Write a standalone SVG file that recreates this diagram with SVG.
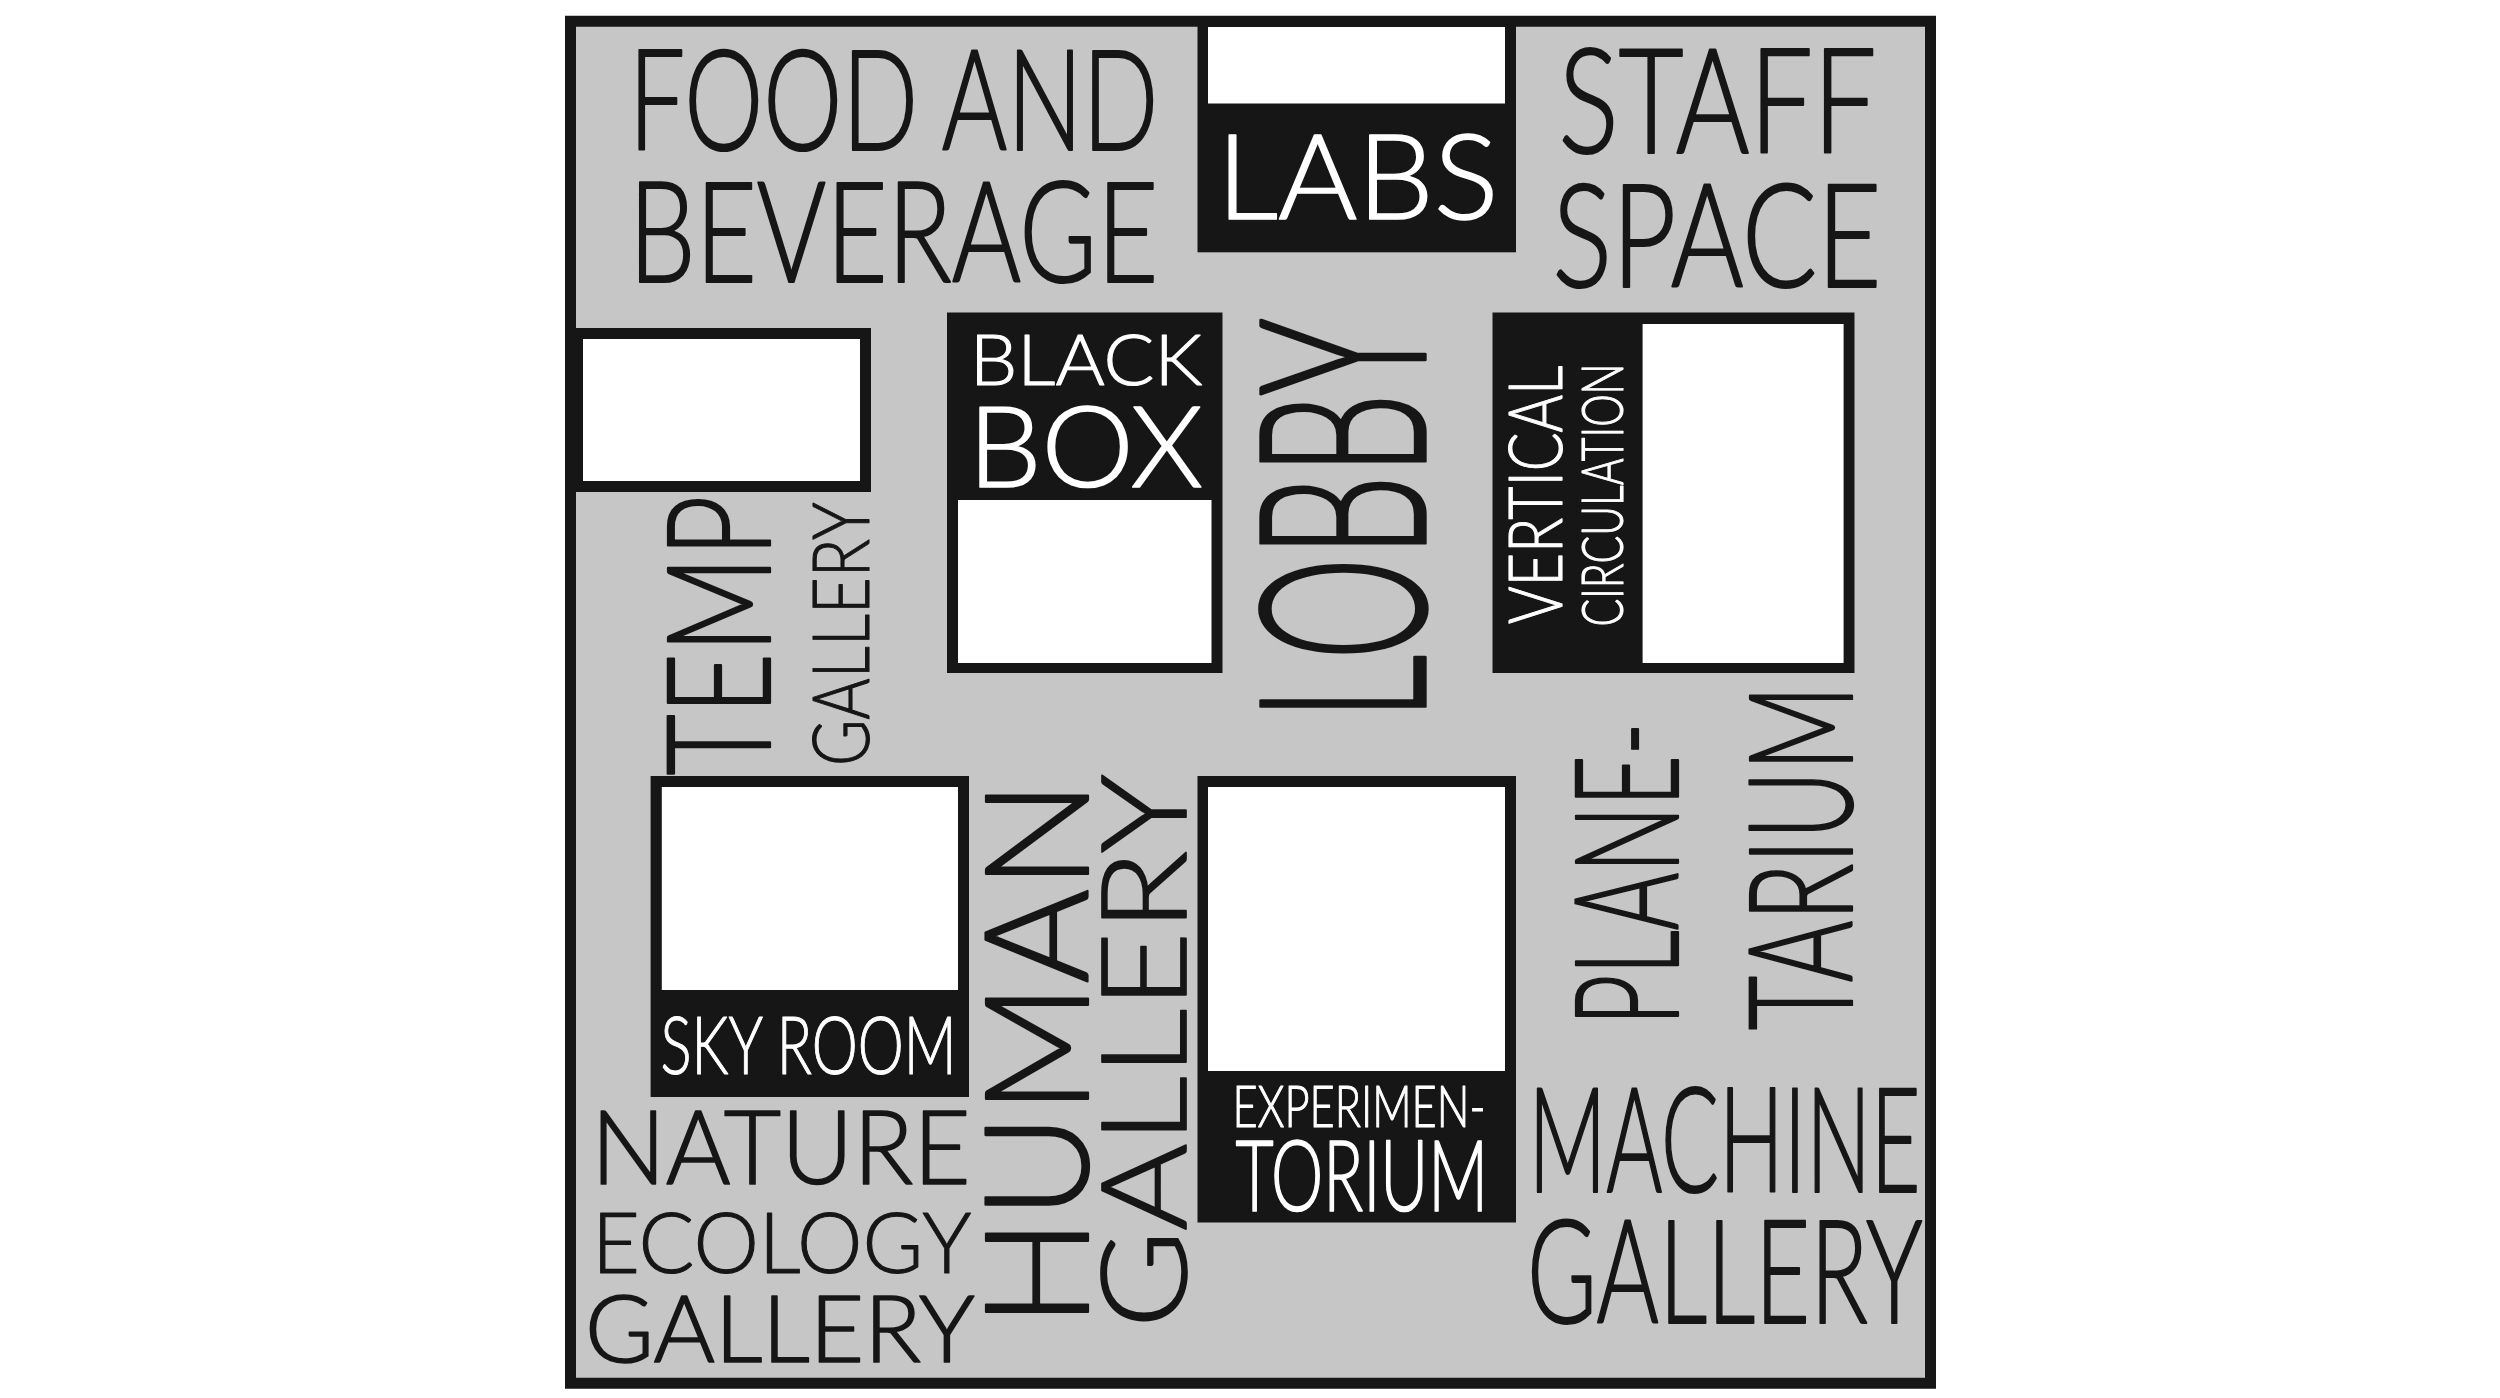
<svg xmlns="http://www.w3.org/2000/svg" width="2500" height="1398" viewBox="0 0 2500 1398">
<style>
.t{font-family:Lato,"Open Sans","Liberation Sans",sans-serif;font-weight:300;fill:#161616;stroke:#161616;stroke-width:2.2;stroke-linejoin:round}
.w{fill:#ffffff;stroke:#ffffff}
.m{stroke-width:1.7}
.s{stroke-width:1.1}
.xl{stroke-width:3.4}
.blk{fill:#161616}
.wht{fill:#ffffff}
</style>
<rect width="2500" height="1398" fill="#ffffff"/>
<g id="frame">
<rect x="570.5" y="21.25" width="1360" height="1362" fill="#c6c6c6" stroke="#161616" stroke-width="11"/>
</g>
<g id="connectors"/>
<g id="food-and-beverage">
<text class="t" x="628.7" y="149.6" font-size="141" textLength="529.7" lengthAdjust="spacingAndGlyphs">FOOD AND</text>
<text class="t" x="628.7" y="282" font-size="141" textLength="529.7" lengthAdjust="spacingAndGlyphs">BEVERAGE</text>
</g>
<g id="labs">
<rect class="blk" x="1197.5" y="16" width="318.5" height="236.3"/>
<rect class="wht" x="1208" y="27" width="297" height="76.5"/>
<text class="t w m" x="1216.7" y="218.75" font-size="118.6" textLength="281.7" lengthAdjust="spacingAndGlyphs">LABS</text>
</g>
<g id="staff-space">
<text class="t" x="1558.4" y="153.3" font-size="146.5" textLength="318.2" lengthAdjust="spacingAndGlyphs">STAFF</text>
<text class="t" x="1552.5" y="287.3" font-size="145" textLength="329" lengthAdjust="spacingAndGlyphs">SPACE</text>
</g>
<g id="temp-gallery">
<rect class="blk" x="565" y="328" width="306" height="164"/>
<rect class="wht" x="583" y="339" width="277" height="142"/>
<text class="t" transform="translate(770,769) rotate(-90)" x="-6.5" y="0" font-size="143.8" textLength="279.9" lengthAdjust="spacingAndGlyphs">TEMP</text>
<text class="t s" transform="translate(869,762.5) rotate(-90)" x="-3.6" y="0" font-size="79.6" textLength="263.7" lengthAdjust="spacingAndGlyphs">GALLERY</text>
</g>
<g id="black-box">
<rect class="blk" x="947" y="312.5" width="275.5" height="360.5"/>
<rect class="wht" x="958" y="500" width="253.5" height="163"/>
<text class="t w s" x="969.8" y="385" font-size="71" textLength="232.4" lengthAdjust="spacingAndGlyphs">BLACK</text>
<text class="t w m" x="967.9" y="486.6" font-size="113" textLength="235.2" lengthAdjust="spacingAndGlyphs">BOX</text>
</g>
<g id="lobby">
<text class="t xl" transform="translate(1425,710) rotate(-90)" x="-10.4" y="0" font-size="232" textLength="401.9" lengthAdjust="spacingAndGlyphs">LOBBY</text>
</g>
<g id="vertical-circulation">
<rect class="blk" x="1492.5" y="312.5" width="362" height="360.5"/>
<rect class="wht" x="1642.6" y="324" width="201" height="339"/>
<text class="t w s" transform="translate(1562,620.5) rotate(-90)" x="-3.4" y="0" font-size="74.8" textLength="258.2" lengthAdjust="spacingAndGlyphs">VERTICAL</text>
<text class="t w s" transform="translate(1623.4,624) rotate(-90)" x="-2.6" y="0" font-size="56.7" textLength="263.1" lengthAdjust="spacingAndGlyphs">CIRCULATION</text>
</g>
<g id="sky-room">
<rect class="blk" x="650.6" y="776" width="318.4" height="321"/>
<rect class="wht" x="661.8" y="787" width="296.2" height="203"/>
<text class="t w s" x="660.4" y="1073.7" font-size="81" textLength="296.3" lengthAdjust="spacingAndGlyphs">SKY ROOM</text>
</g>
<g id="human-gallery">
<text class="t" transform="translate(1087.7,1320.5) rotate(-90)" x="-6.5" y="0" font-size="144.6" textLength="546.5" lengthAdjust="spacingAndGlyphs">HUMAN</text>
<text class="t m" transform="translate(1186,1323) rotate(-90)" x="-5.3" y="0" font-size="118.6" textLength="554.2" lengthAdjust="spacingAndGlyphs">GALLERY</text>
</g>
<g id="nature-ecology-gallery">
<text class="t m" x="591.1" y="1184.4" font-size="102.9" textLength="379.6" lengthAdjust="spacingAndGlyphs">NATURE</text>
<text class="t s" x="591.9" y="1272.8" font-size="84" textLength="379.5" lengthAdjust="spacingAndGlyphs">ECOLOGY</text>
<text class="t m" x="584.9" y="1361.6" font-size="92" textLength="390" lengthAdjust="spacingAndGlyphs">GALLERY</text>
</g>
<g id="experimentorium">
<rect class="blk" x="1197.5" y="776" width="318.5" height="446.5"/>
<rect class="wht" x="1208" y="787" width="297" height="284"/>
<text class="t w s" x="1232.4" y="1127.4" font-size="57" textLength="253.1" lengthAdjust="spacingAndGlyphs">EXPERIMEN-</text>
<text class="t w m" x="1235.6" y="1210.7" font-size="97.7" textLength="252.5" lengthAdjust="spacingAndGlyphs">TORIUM</text>
</g>
<g id="planetarium">
<text class="t" transform="translate(1677.5,1019) rotate(-90)" x="-6.5" y="0" font-size="143.8" textLength="302.9" lengthAdjust="spacingAndGlyphs">PLANE-</text>
<text class="t" transform="translate(1851.7,1023.7) rotate(-90)" x="-6.5" y="0" font-size="145" textLength="344.7" lengthAdjust="spacingAndGlyphs">TARIUM</text>
</g>
<g id="machine-gallery">
<text class="t" x="1528.4" y="1192" font-size="146.5" textLength="392.2" lengthAdjust="spacingAndGlyphs">MACHINE</text>
<text class="t" x="1527" y="1323" font-size="144" textLength="395.5" lengthAdjust="spacingAndGlyphs">GALLERY</text>
</g>
</svg>
